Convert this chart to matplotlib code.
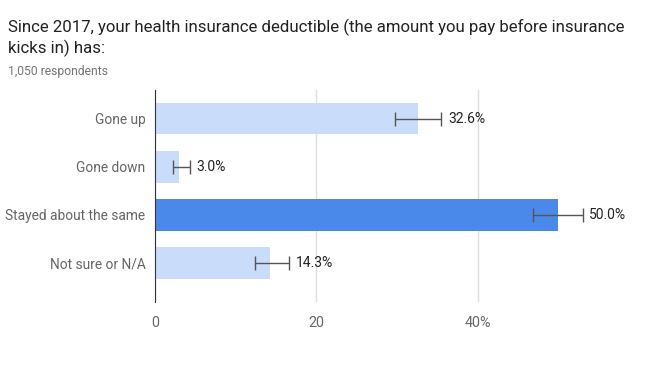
import numpy as np
import matplotlib.pyplot as plt

plt.rcParams['font.family'] = ['Roboto', 'DejaVu Sans']

categories = ['Gone up', 'Gone down', 'Stayed about the same', 'Not sure or N/A']
values = [32.6, 3.0, 50.0, 14.3]
err_low = [29.7, 2.2, 46.9, 12.4]
err_high = [35.5, 4.3, 53.0, 16.6]
highlight = 'Stayed about the same'
ticks = [0, 20, 40]
tick_labels = ['0', '20', '40%']

fig = plt.figure(figsize=(6.51, 3.75), dpi=100)
ax = fig.add_axes([155 / 651, 1 - 302 / 375, (623 - 155) / 651, (302 - 90) / 375])

y = np.arange(len(categories))
colors = ['#4a89ea' if c == highlight else '#c9dcfa' for c in categories]
ax.barh(y, values, height=0.65, color=colors, zorder=2)

lo = np.array(values) - np.array(err_low)
hi = np.array(err_high) - np.array(values)
ax.errorbar(values, y, xerr=[lo, hi], fmt='none', ecolor='#555555',
            elinewidth=1, capsize=5, capthick=1, zorder=3)

for yi, v, h in zip(y, values, err_high):
    ax.text(h + 0.8, yi, '{:.1f}%'.format(v), va='center', ha='left',
            fontsize=10, color='#222222')

ax.set_yticks(y)
ax.set_yticklabels(categories, fontsize=9.9, color='#666666')
ax.set_xticks(ticks)
ax.set_xticklabels(tick_labels, fontsize=10.3, color='#666666')
ax.set_xlim(0, 58)
ax.set_ylim(3.81, -0.6)
ax.tick_params(length=0, pad=7)
ax.tick_params(axis='x', pad=10)
ax.xaxis.grid(True, color='#dddddd', linewidth=1, zorder=0)
for s in ['top', 'right', 'bottom']:
    ax.spines[s].set_visible(False)
ax.spines['left'].set_color('#333333')
ax.spines['left'].set_linewidth(0.8)
ax.spines['left'].set_zorder(4)

fig.text(8 / 651, 1 - 38 / 375,
         'Since 2017, your health insurance deductible (the amount you pay before insurance\nkicks in) has:',
         fontsize=12.1, color='#222222', ha='left', va='center', linespacing=1.3)
fig.text(8 / 651, 1 - 71 / 375, '1,050 respondents', fontsize=8.7, color='#757575',
         ha='left', va='center')

fig.savefig('out.png', dpi=100)
